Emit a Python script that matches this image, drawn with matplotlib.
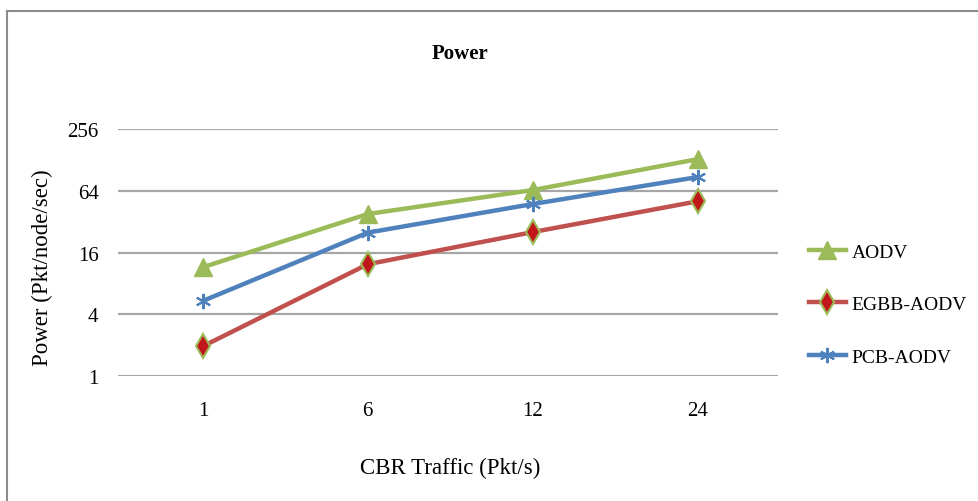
import matplotlib
matplotlib.use('Agg')
import matplotlib.pyplot as plt
from matplotlib.lines import Line2D

# CBR traffic categories (Pkt/s)
traffic = ['1', '6', '12', '24']

# power values (Pkt/node/sec), log2 scale
aodv = [11.5, 38, 65, 130]
egbb_aodv = [1.95, 12.3, 25.3, 50.5]
pcb_aodv = [5.4, 25, 47.5, 87]

yticks = [1, 4, 16, 64, 256]

plt.rcParams['font.family'] = ['Liberation Serif', 'DejaVu Serif']

fig = plt.figure(figsize=(9.79, 5.02), dpi=100)
ax = fig.add_axes([0.1205, 0.249, 0.6745, 0.492])

x = range(len(traffic))
ax.plot(x, aodv, color='#9BBB59', lw=3.2, marker='^', markersize=13,
        label='AODV', zorder=3)
ax.plot(x, egbb_aodv, color='#C0504D', lw=3.2, marker='d', markersize=12,
        markerfacecolor='#C0171B', markeredgecolor='#9BBB59', markeredgewidth=1.5,
        label='EGBB-AODV', zorder=3)
ax.plot(x, pcb_aodv, color='#4F81BD', lw=3.2, marker=(6, 2, 0), markersize=11,
        markeredgecolor='#4F81BD', markeredgewidth=1.5, label='PCB-AODV', zorder=3)

ax.set_yscale('log', base=2)
ax.set_ylim(1, 256)
ax.set_xlim(-0.515, 3.49)
ax.set_yticks(yticks)
ax.set_yticklabels([str(v) for v in yticks])
ax.minorticks_off()
ax.set_xticks(list(x))
ax.set_xticklabels(traffic)
ax.tick_params(length=0, labelsize=15, pad=14)
ax.tick_params(axis='x', pad=18)
ax.grid(axis='y', color='#A6A6A6', lw=1.6)
ax.set_axisbelow(True)
for s in ax.spines.values():
    s.set_visible(False)

fig.text(0.47, 0.893, 'Power', ha='center', va='center', fontsize=15, fontweight='bold')
fig.text(0.46, 0.067, 'CBR Traffic (Pkt/s)', ha='center', va='center', fontsize=16.5)
fig.text(0.043, 0.466, 'Power (Pkt/node/sec)', rotation=90,
         ha='center', va='center', fontsize=16.5)

ax.legend(loc='center left', bbox_to_anchor=(1.02, 0.29), frameon=False,
          fontsize=14, labelspacing=1.8, handlelength=1.9, handletextpad=0.3)

# outer frame of the chart area
fig.add_artist(Line2D([0.0072, 1.0], [0.976, 0.976], color='#8C8C8C', lw=1.5))
fig.add_artist(Line2D([0.0072, 0.0072], [0.0, 0.976], color='#8C8C8C', lw=1.5))

fig.savefig('out.png', dpi=100, facecolor='white')
